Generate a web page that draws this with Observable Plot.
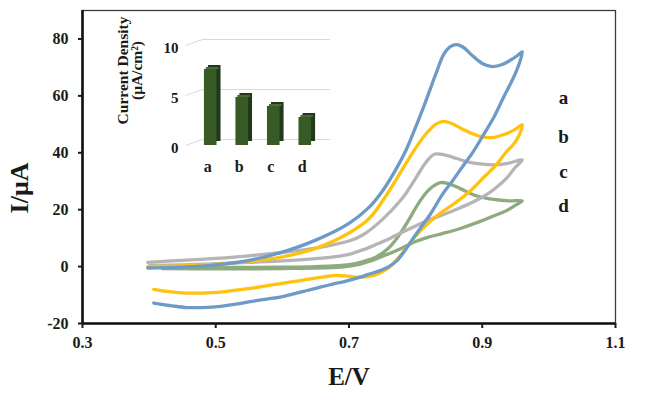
<!DOCTYPE html>
<html><head><meta charset="utf-8">
<script src="https://cdn.jsdelivr.net/npm/d3@7"></script>
<script src="https://cdn.jsdelivr.net/npm/@observablehq/plot@0.6"></script>
<style>
html,body{margin:0;padding:0;background:#fff;}
#wrap{position:relative;width:645px;height:399px;overflow:hidden;}
#wrap svg{position:absolute;left:0;top:0;}
</style></head><body><div id="wrap"></div>
<script>
// ---- data ----
const seriesNames = ["a", "b", "c", "d"];
const seriesColors = ["#6e9ac7", "#ffc20e", "#b5b5b5", "#8eab80"];
const xTicks = [0.3, 0.5, 0.7, 0.9, 1.1];
const yTicks = [-20, 0, 20, 40, 60, 80];
const labelE = 1.022;
const labelI = [59.4, 45.5, 33.2, 21.3];

// [E (V), I (µA)] — anodic branch then return branch
const cvA = [[0.398,-0.5],[0.45,-0.2],[0.5,0.6],[0.55,2.2],[0.6,5.1],[0.65,9.3],[0.7,15.2],[0.73,20.8],[0.75,26.5],[0.77,34],[0.785,40.6],[0.8,49],[0.815,58],[0.83,67.5],[0.842,74.5],[0.852,77.3],[0.862,78],[0.872,77],[0.885,74.2],[0.9,71.4],[0.915,70.3],[0.93,71],[0.942,72.5],[0.952,74],[0.96,75.5],
[0.955,71],[0.948,67],[0.932,59.5],[0.917,52.3],[0.902,46.4],[0.887,40.6],[0.87,35],[0.855,30],[0.84,25.3],[0.822,18.4],[0.807,13.5],[0.795,9.5],[0.783,5.3],[0.772,2.1],[0.76,0],[0.747,-1.4],[0.732,-2.5],[0.717,-3.7],[0.697,-5],[0.677,-6.1],[0.657,-7.2],[0.637,-8.4],[0.617,-9.6],[0.597,-10.7],[0.577,-11.4],[0.557,-12.1],[0.53,-13.2],[0.507,-14],[0.48,-14.4],[0.457,-14.4],[0.435,-13.8],[0.407,-12.8]];
const cvB = [[0.398,0],[0.45,0.2],[0.5,0.8],[0.55,1.8],[0.6,3.4],[0.65,6.4],[0.7,11.8],[0.73,16.8],[0.757,25.4],[0.777,33],[0.797,40.6],[0.815,46.5],[0.83,50],[0.842,51],[0.854,50.3],[0.867,48.7],[0.882,47],[0.897,45.8],[0.917,45.4],[0.935,46.6],[0.95,48.3],[0.96,49.8],
[0.955,46],[0.947,43],[0.935,40],[0.922,36],[0.905,32],[0.882,26.6],[0.86,22.5],[0.837,18.8],[0.82,15.5],[0.8,10.8],[0.787,6.8],[0.772,2.5],[0.76,-0.3],[0.745,-2.4],[0.728,-3.5],[0.71,-3.7],[0.695,-3.3],[0.682,-3.1],[0.665,-3.5],[0.647,-4.1],[0.627,-4.9],[0.607,-5.6],[0.58,-6.6],[0.557,-7.5],[0.53,-8.3],[0.507,-9],[0.48,-9.3],[0.457,-9.3],[0.43,-8.8],[0.407,-8]];
const cvC = [[0.398,1.5],[0.45,2.2],[0.5,2.9],[0.55,3.8],[0.6,5],[0.65,6.5],[0.7,9],[0.72,11],[0.75,16.5],[0.78,24],[0.8,31],[0.815,36.5],[0.828,39.5],[0.84,39.4],[0.855,38.5],[0.875,37],[0.9,36],[0.92,35.8],[0.94,36.4],[0.96,37.5],
[0.95,35],[0.937,31.2],[0.922,28],[0.907,25.4],[0.887,22.8],[0.867,20.7],[0.842,18.3],[0.817,16.1],[0.8,14.3],[0.782,12.3],[0.762,10],[0.742,7.9],[0.728,6.5],[0.717,5.6],[0.7,4.3],[0.68,3.5],[0.65,2.8],[0.6,2],[0.55,1.5],[0.5,1],[0.45,0.6],[0.4,0.3]];
const cvD = [[0.42,-0.3],[0.5,-0.3],[0.6,-0.2],[0.65,0],[0.7,0.7],[0.72,1.7],[0.74,3.3],[0.757,6],[0.772,10],[0.79,16.5],[0.805,22.5],[0.82,27],[0.837,29.5],[0.85,29.1],[0.867,27.4],[0.892,24.8],[0.917,23.6],[0.94,23.1],[0.96,23.1],
[0.95,21.6],[0.935,19.5],[0.917,17.8],[0.895,15.7],[0.867,13.4],[0.84,11.6],[0.817,10.2],[0.8,8.8],[0.782,6.8],[0.765,5],[0.747,3.3],[0.73,1.8],[0.717,0.9],[0.7,0.2],[0.68,-0.3],[0.6,-0.7],[0.5,-0.8],[0.42,-0.7]];

// inset bar chart
const insetCategories = ["a", "b", "c", "d"];
const currentDensity = [7.6, 4.8, 3.9, 2.8];
const insetTicks = [0, 5, 10];

// ---- build ----
const curves = {a: cvA, b: cvB, c: cvC, d: cvD};
const rows = [];
["d", "c", "b", "a"].forEach(s => curves[s].forEach(([E, I], k) => rows.push({series: s, k, E, I})));

const font = "'Liberation Serif', 'Times New Roman', serif";

const main = Plot.plot({
  width: 645, height: 399,
  marginLeft: 82, marginRight: 30, marginTop: 10, marginBottom: 76,
  style: {fontFamily: font, background: "white", color: "#1a1a1a"},
  x: {domain: [0.3, 1.1]},
  y: {domain: [-20, 90]},
  color: {domain: seriesNames, range: seriesColors},
  marks: [
    Plot.frame({stroke: "#3c3c3c", strokeWidth: 1.3}),
    Plot.line(rows, {x: "E", y: "I", z: "series", stroke: "series", curve: "catmull-rom", strokeWidth: 3.3, strokeLinejoin: "round", strokeLinecap: "round"}),
    Plot.ruleX([0.3], {stroke: "#111", strokeWidth: 2.6}),
    Plot.ruleY([-20], {stroke: "#111", strokeWidth: 2.6}),
    Plot.axisX(xTicks, {tickFormat: d3.format(".1f"), tickSize: 5, tickPadding: 8, strokeWidth: 2, fontSize: 16, fontWeight: "bold", label: null}),
    Plot.axisY(yTicks, {tickFormat: d => String(d), tickSize: 4, tickPadding: 10, strokeWidth: 2, fontSize: 16, fontWeight: "bold", label: null}),
    Plot.text(seriesNames, {x: () => labelE, y: (d, i) => labelI[i], text: d => d, fontSize: 19, fontWeight: "bold", fill: "#1a1a1a"}),
    Plot.text(["E/V"], {frameAnchor: "bottom", textAnchor: "middle", dy: 61, fontSize: 25, fontWeight: "bold", fill: "#1a1a1a"}),
    Plot.text(["I/μA"], {frameAnchor: "left", textAnchor: "middle", dx: -63, dy: 21, rotate: -90, fontSize: 26, fontWeight: "bold", fill: "#1a1a1a"})
  ]
});

const depthX = 0.54, depthY = 0.6;
const insetRows = currentDensity.map((v, i) => ({cat: insetCategories[i], i: i + 1, v}));
const inset = Plot.plot({
  width: 645, height: 399,
  marginLeft: 185, marginRight: 315, marginTop: 45, marginBottom: 254,
  style: {fontFamily: font, background: "transparent", color: "#1a1a1a"},
  x: {domain: [0.2, 4.8]},
  y: {domain: [0, 10]},
  marks: [
    Plot.link(insetTicks, {x1: () => 0.2, y1: d => d, x2: () => 0.2 + depthX, y2: d => d + depthY, stroke: "#d9d9d9", strokeWidth: 1}),
    Plot.ruleY(insetTicks, {y: d => d + depthY, x1: () => 0.2 + depthX, x2: () => 4.8, stroke: "#d9d9d9", strokeWidth: 1}),
    Plot.rectY(insetRows, {x1: d => d.i - 0.2, x2: d => d.i + 0.2, y1: 0, y2: "v", dx: 4, dy: -4, fill: "#22381a"}),
    Plot.rectY(insetRows, {x1: d => d.i - 0.2 + 0.06, x2: d => d.i + 0.2 + 0.06, y1: "v", y2: d => d.v + 0.2, fill: "#4a6b35"}),
    Plot.rectY(insetRows, {x1: d => d.i - 0.2, x2: d => d.i + 0.2, y1: 0, y2: "v", fill: "#385a24"}),
    Plot.axisY(insetTicks, {tickSize: 0, tickPadding: 7, dy: 3, fontSize: 15, fontWeight: "bold", label: null}),
    Plot.axisX([1, 2, 3, 4], {tickFormat: i => insetCategories[i - 1], tickSize: 0, tickPadding: 15, dx: -3, fontSize: 16, fontWeight: "bold", label: null}),
    Plot.text(["Current Density\n(μA/cm²)"], {frameAnchor: "left", textAnchor: "middle", dx: -55, dy: -25, rotate: -90, lineHeight: 0.87, fontSize: 15.5, fontWeight: "bold", fill: "#1a1a1a"})
  ]
});

const wrap = document.getElementById("wrap");
wrap.appendChild(main);
wrap.appendChild(inset);
</script>
</body></html>
